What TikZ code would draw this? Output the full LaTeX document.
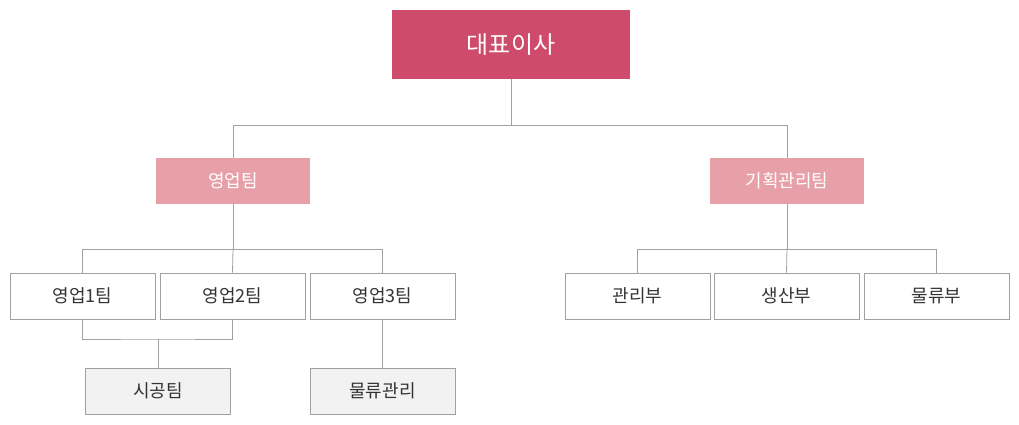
\documentclass[tikz,border=0pt]{standalone}
\usepackage{fontspec}
\setmainfont{Noto Sans CJK KR}
\definecolor{ceo}{HTML}{CF4B6C}
\definecolor{team}{HTML}{E8A0A8}
\definecolor{ln}{HTML}{A0A0A0}
\definecolor{tx}{HTML}{333333}
\begin{document}
\begin{tikzpicture}[x=1pt,y=-1pt,
  box/.style={draw=ln,line width=0.8pt,fill=white,text=tx,minimum width=145pt,minimum height=46pt,font=\fontsize{18}{20}\selectfont,inner sep=0},
  gbox/.style={box,fill=black!5},
  tm/.style={fill=team,text=white,minimum width=154pt,minimum height=46pt,font=\fontsize{18}{20}\selectfont,inner sep=0},
  con/.style={draw=ln,line width=0.8pt}]
\useasboundingbox (0,0) rectangle (1019,425);
\node[fill=ceo,text=white,minimum width=238pt,minimum height=69pt,inner sep=0,font=\fontsize{24}{26}\selectfont] (ceo) at (511,44.5) {대표이사};
\node[tm] (s) at (233,181) {영업팀};
\node[tm] (p) at (787,181) {기획관리팀};
\node[box] (s1) at (82.5,296) {영업1팀};
\node[box] (s2) at (232.5,296) {영업2팀};
\node[box] (s3) at (382.5,296) {영업3팀};
\node[box] (p1) at (637.5,296) {관리부};
\node[box] (p2) at (786.5,296) {생산부};
\node[box] (p3) at (936.5,296) {물류부};
\node[gbox] (c) at (158,391) {시공팀};
\node[gbox] (l) at (382.5,391) {물류관리};
\coordinate (m1) at (511,125);
\coordinate (m2) at (233,249);
\coordinate (m3) at (787,249);
\coordinate (m4) at (158,339);
\draw[con] (ceo.south) -- (m1) -| (s.north);
\draw[con] (m1) -| (p.north);
\draw[con] (s.south) -- (m2) -| (s1.north);
\draw[con] (m2) -| (s3.north);
\draw[con] (m2) -- (s2.north);
\draw[con] (p.south) -- (m3) -| (p1.north);
\draw[con] (m3) -| (p3.north);
\draw[con] (m3) -- (p2.north);
\draw[con] (s1.south) |- (m4) -| (s2.south);
\draw[con] (m4) -- (c.north);
\draw[con] (s3.south) -- (l.north);
\end{tikzpicture}
\end{document}
